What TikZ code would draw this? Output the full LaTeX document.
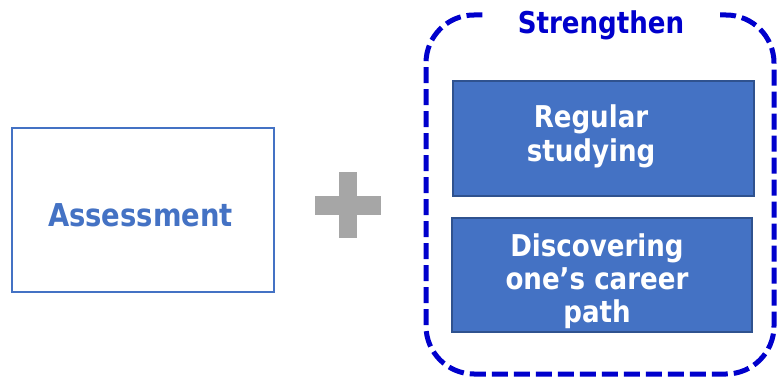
\documentclass[tikz,border=0pt]{standalone}
\usepackage{fontspec}
\setmainfont{DejaVu Sans}
\newfontfamily\labelfont[FakeStretch=0.87]{DejaVu Sans}
\definecolor{accblue}{HTML}{4472C4}
\definecolor{accdark}{HTML}{2F528F}
\definecolor{titleblue}{HTML}{0000CC}
\definecolor{plusgray}{HTML}{A6A6A6}
\tikzset{
  outlinebox/.style={draw=accblue, line width=2.5pt, fill=white},
  fillbox/.style={draw=accdark, line width=2pt, fill=accblue},
  boxtext/.style={text=white, align=center, inner sep=0pt},
  framestyle/.style={draw=titleblue, line width=5pt, dash pattern=on 16pt off 6pt, rounded corners=48pt},
}
\begin{document}
\begin{tikzpicture}[x=1pt,y=1pt]
\useasboundingbox (0,0) rectangle (777,378);
% Assessment
\node[outlinebox, minimum width=262pt, minimum height=164pt, inner sep=0pt] (assess) at (143,168) {};
\node[text=accblue, font=\labelfont\bfseries\fontsize{31.5}{34}\selectfont, anchor=base, inner sep=0pt] (assesstext) at (140.5,151) {Assessment};
% plus
\fill[plusgray] (315,163) rectangle (381,182);
\fill[plusgray] (339,140) rectangle (357,206);
\coordinate (plus) at (348,172);
% frame
\coordinate (gapright) at (720,363);
\coordinate (gapleft) at (487,363);
\draw[framestyle] (gapright) -| (774,4) -| (426,363) -- (gapleft);
\node[text=titleblue, font=\labelfont\bfseries\fontsize{30}{34}\selectfont, anchor=base, inner sep=0pt] (title) at (601,344) {Strengthen};
% inner boxes
\node[fillbox, minimum width=301pt, minimum height=115pt, inner sep=0pt] (box1) at (603.5,239.5) {};
\node[boxtext, font=\labelfont\bfseries\fontsize{30}{34}\selectfont] (t1) at (591,241.8) {Regular\\studying};
\node[fillbox, minimum width=300pt, minimum height=114pt, inner sep=0pt] (box2) at (602,103) {};
\node[boxtext, font=\labelfont\bfseries\fontsize{30}{33}\selectfont] (t2) at (597,96.8) {Discovering\\one’s career\\path};
\end{tikzpicture}
\end{document}
